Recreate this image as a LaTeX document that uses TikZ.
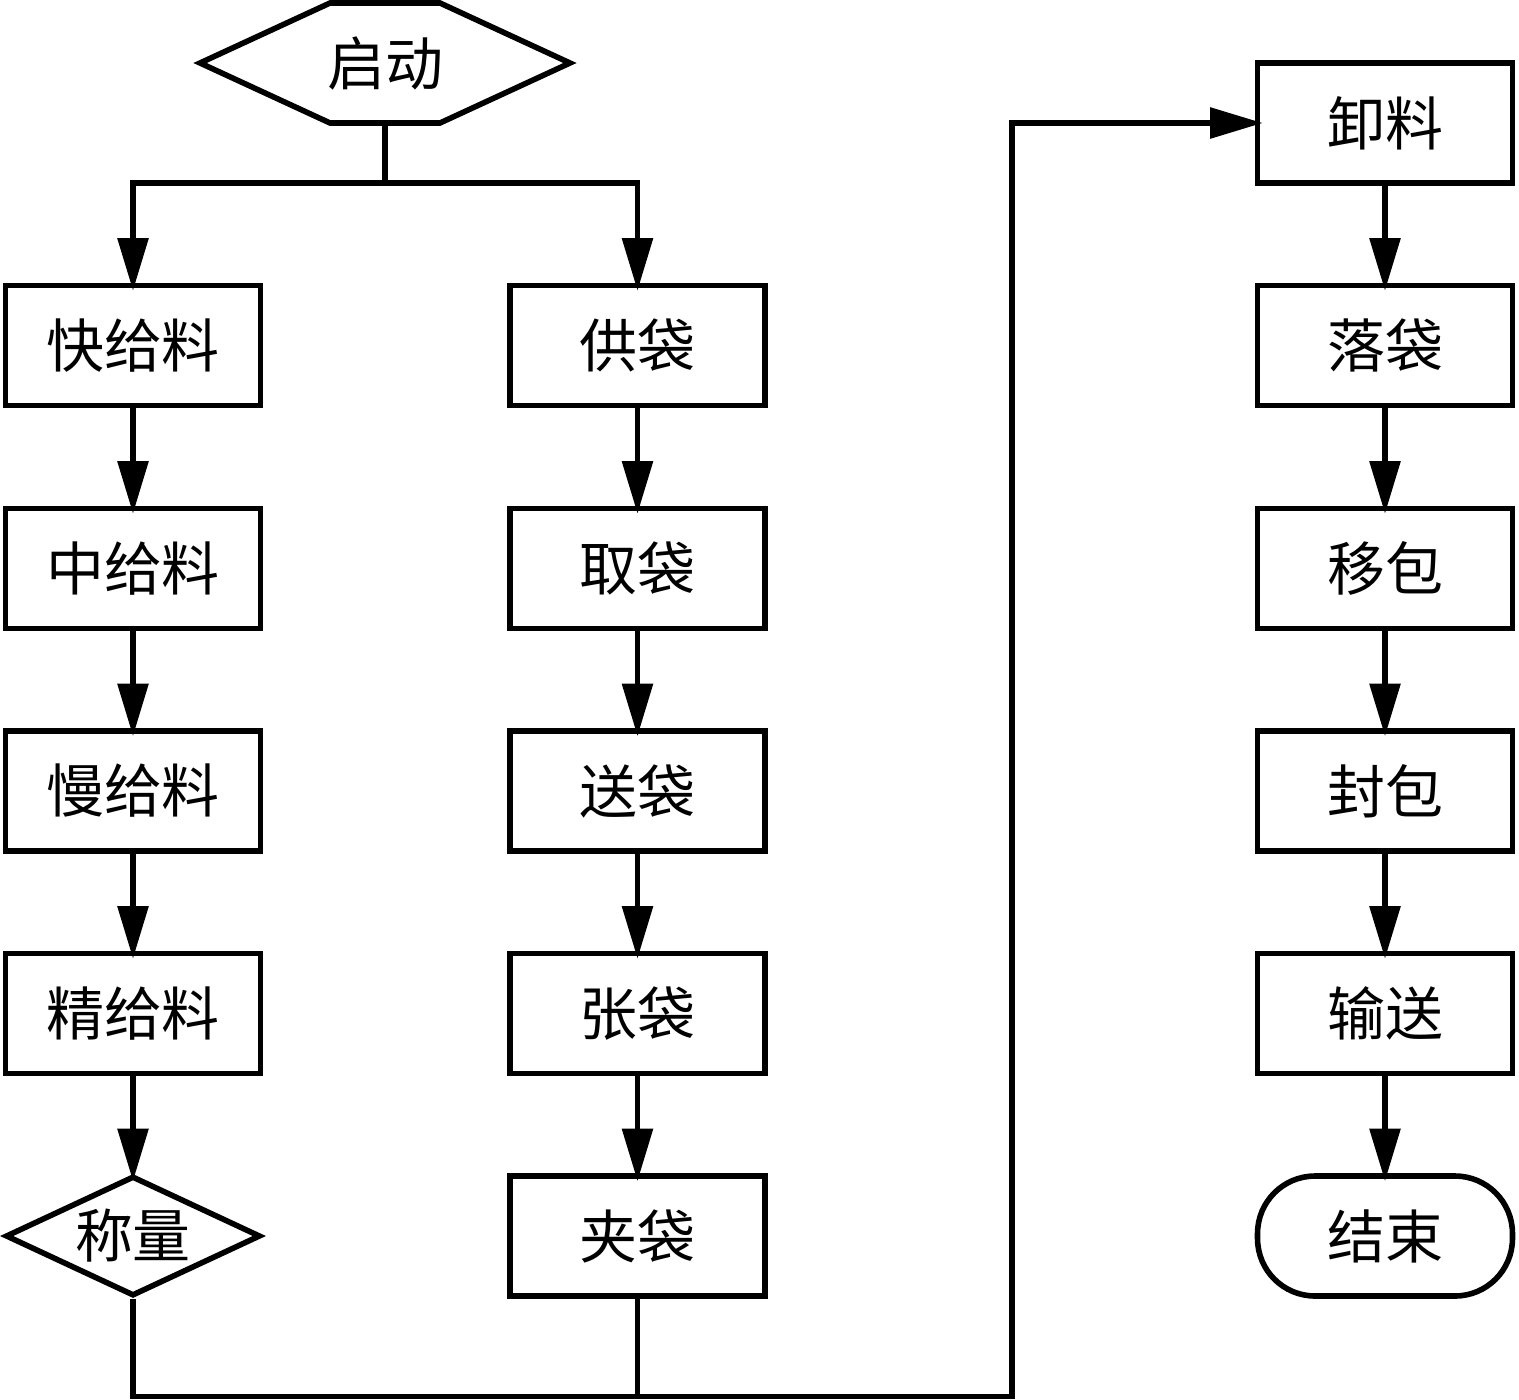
\documentclass[tikz,border=0pt]{standalone}
\usepackage{fontspec}
\newfontfamily\cjk{Noto Sans CJK SC}
\usetikzlibrary{arrows.meta,shapes.geometric}
\begin{document}
\begin{tikzpicture}[x=0.02cm,y=-0.02cm,
  line width=0.112cm,
  lbl/.style={font=\cjk\fontsize{33}{36}\selectfont},
  box/.style={lbl, draw, rectangle, minimum width=5.1cm, minimum height=2.4cm, inner sep=0pt},
  endbox/.style={box, rounded corners=1.15cm},
  dia/.style={lbl, draw, diamond, aspect=2.17, minimum width=5.1cm, minimum height=2.4cm, inner sep=0pt},
  arr/.style={-{Triangle[length=1.05cm,width=0.6cm]}, shorten >=-0.16cm}
]
\useasboundingbox (0,0) rectangle (1519,1400);

% start hexagon
\node[lbl, minimum width=7.4cm, minimum height=2.4cm, inner sep=0pt, outer sep=0pt] (st) at (385,63) {启动};
\draw (st.west) -- ([xshift=2.6cm]st.north west) -- ([xshift=-2.6cm]st.north east) -- (st.east)
      -- ([xshift=-2.6cm]st.south east) -- ([xshift=2.6cm]st.south west) -- cycle;

% left column
\node[box] (k1) at (133,345.5) {快给料};
\node[box] (k2) at (133,568.5) {中给料};
\node[box] (k3) at (133,791) {慢给料};
\node[box] (k4) at (133,1013.5) {精给料};
\node[dia] (k5) at (133,1236) {称量};

% middle column
\node[box] (g1) at (637.5,345.5) {供袋};
\node[box] (g2) at (637.5,568.5) {取袋};
\node[box] (g3) at (637.5,791) {送袋};
\node[box] (g4) at (637.5,1013.5) {张袋};
\node[box] (g5) at (637.5,1236) {夹袋};

% right column
\node[box] (u1) at (1385,123) {卸料};
\node[box] (u2) at (1385,345.5) {落袋};
\node[box] (u3) at (1385,568.5) {移包};
\node[box] (u4) at (1385,791) {封包};
\node[box] (u5) at (1385,1013.5) {输送};
\node[endbox] (u6) at (1385,1236) {结束};

% split from start
\coordinate (sp) at (385,183);
\draw (st.south) -- (sp);
\draw[arr] (sp) -| (k1.north);
\draw[arr] (sp) -| (g1.north);

% column arrows
\draw[arr] (k1) -- (k2);
\draw[arr] (k2) -- (k3);
\draw[arr] (k3) -- (k4);
\draw[arr] (k4) -- (k5);
\draw[arr] (g1) -- (g2);
\draw[arr] (g2) -- (g3);
\draw[arr] (g3) -- (g4);
\draw[arr] (g4) -- (g5);
\draw[arr] (u1) -- (u2);
\draw[arr] (u2) -- (u3);
\draw[arr] (u3) -- (u4);
\draw[arr] (u4) -- (u5);
\draw[arr] (u5) -- (u6);

% bottom merge
\coordinate (turn) at (1012,1396.5);
\draw[arr] (k5.south) |- (turn) |- (u1.west);
\draw (g5.south) -- (g5.south |- turn);
\end{tikzpicture}
\end{document}
